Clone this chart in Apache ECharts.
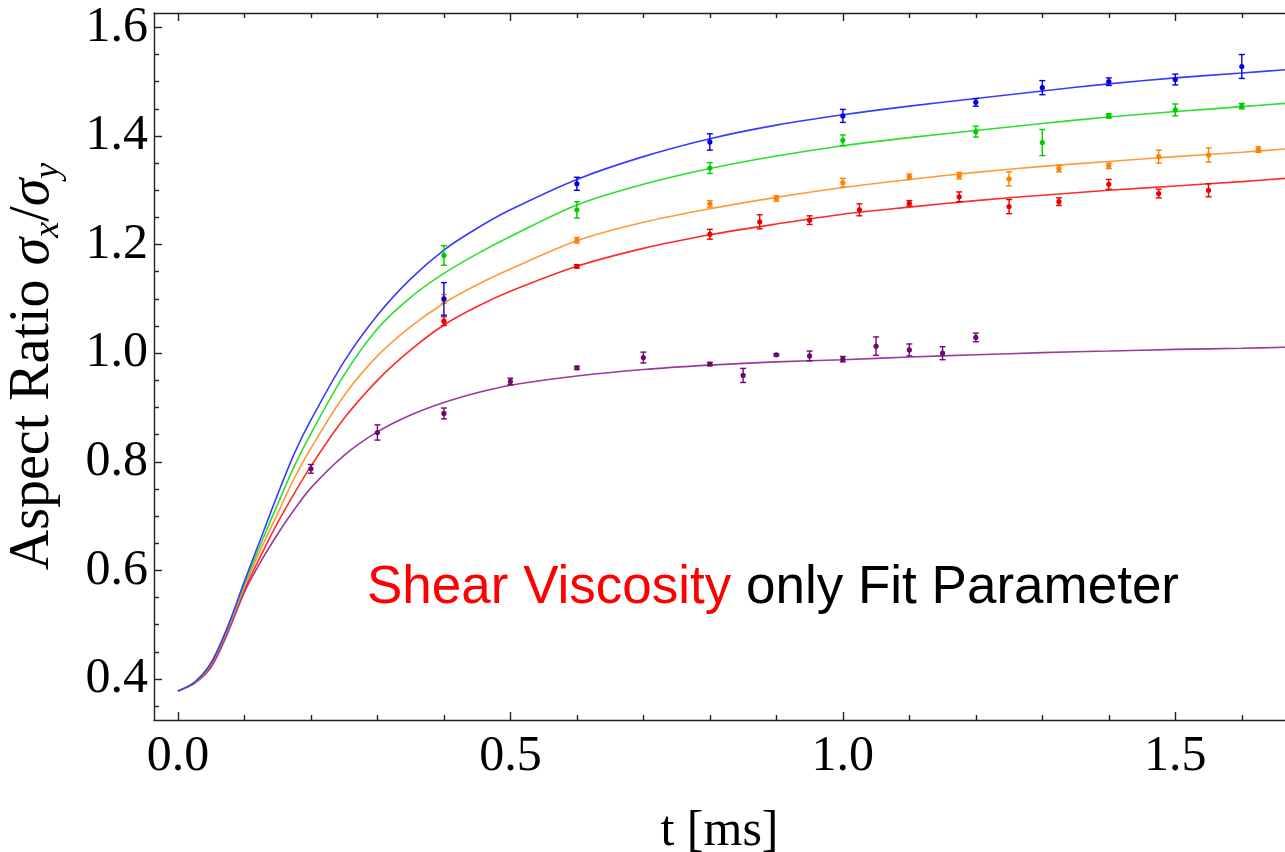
<!DOCTYPE html>
<html>
<head>
<meta charset="utf-8">
<script src="https://cdn.jsdelivr.net/npm/echarts@6/dist/echarts.min.js"></script>
<style>
html, body { margin: 0; padding: 0; background: #fff; overflow: hidden; }
#main { width: 1285px; height: 852px; }
</style>
</head>
<body>
<div id="main"></div>
<script>
// sample times of the fitted curves
var tFit = [0, 0.025, 0.05, 0.075, 0.1, 0.125, 0.15, 0.175, 0.2, 0.25, 0.3, 0.35, 0.4, 0.45, 0.5, 0.6, 0.7, 0.8, 0.9, 1.0, 1.1, 1.2, 1.3, 1.4, 1.5, 1.6, 1.665];

// fitted curves
var fitBlue   = [0.378, 0.394, 0.43, 0.497, 0.58, 0.66, 0.74, 0.815, 0.877, 0.985, 1.07, 1.137, 1.19, 1.23, 1.264, 1.32, 1.362, 1.395, 1.42, 1.439, 1.455, 1.469, 1.483, 1.496, 1.507, 1.516, 1.522];
var fitGreen  = [0.378, 0.394, 0.43, 0.495, 0.575, 0.65, 0.722, 0.792, 0.852, 0.96, 1.045, 1.103, 1.147, 1.183, 1.215, 1.273, 1.311, 1.34, 1.363, 1.382, 1.397, 1.41, 1.423, 1.435, 1.445, 1.454, 1.46];
var fitOrange = [0.378, 0.394, 0.428, 0.493, 0.57, 0.64, 0.705, 0.77, 0.825, 0.922, 0.995, 1.049, 1.092, 1.126, 1.155, 1.207, 1.241, 1.266, 1.287, 1.305, 1.32, 1.333, 1.344, 1.353, 1.362, 1.37, 1.376];
var fitRed    = [0.378, 0.393, 0.425, 0.49, 0.565, 0.628, 0.688, 0.742, 0.792, 0.88, 0.95, 1.006, 1.052, 1.086, 1.114, 1.16, 1.193, 1.218, 1.238, 1.256, 1.269, 1.281, 1.291, 1.3, 1.308, 1.316, 1.322];
var fitPurple = [0.378, 0.392, 0.422, 0.485, 0.56, 0.617, 0.667, 0.712, 0.752, 0.812, 0.855, 0.886, 0.909, 0.927, 0.941, 0.958, 0.97, 0.978, 0.984, 0.988, 0.993, 0.997, 1.001, 1.004, 1.007, 1.009, 1.011];

// measured points: [t, ratio, error]
var ptsBlue = [[0.4, 1.10, 0.03], [0.6, 1.312, 0.012], [0.8, 1.389, 0.015], [1.0, 1.437, 0.012], [1.2, 1.462, 0.007], [1.3, 1.489, 0.013], [1.4, 1.50, 0.007], [1.5, 1.504, 0.01], [1.6, 1.528, 0.022]];
var ptsGreen = [[0.4, 1.18, 0.018], [0.6, 1.264, 0.015], [0.8, 1.341, 0.01], [1.0, 1.392, 0.01], [1.2, 1.408, 0.01], [1.3, 1.388, 0.024], [1.4, 1.437, 0.004], [1.5, 1.448, 0.011], [1.6, 1.455, 0.005]];
var ptsOrange = [[0.4, 1.10, 0.008], [0.6, 1.208, 0.005], [0.8, 1.275, 0.006], [0.9, 1.285, 0.005], [1.0, 1.314, 0.008], [1.1, 1.325, 0.005], [1.175, 1.327, 0.006], [1.25, 1.321, 0.013], [1.325, 1.34, 0.006], [1.4, 1.345, 0.005], [1.475, 1.362, 0.012], [1.55, 1.365, 0.013], [1.625, 1.375, 0.005]];
var ptsRed = [[0.4, 1.059, 0.008], [0.6, 1.16, 0.003], [0.8, 1.219, 0.009], [0.875, 1.242, 0.013], [0.95, 1.245, 0.008], [1.025, 1.264, 0.011], [1.1, 1.276, 0.005], [1.175, 1.288, 0.009], [1.25, 1.27, 0.013], [1.325, 1.279, 0.007], [1.4, 1.311, 0.009], [1.475, 1.294, 0.008], [1.55, 1.30, 0.012]];
var ptsPurple = [[0.2, 0.787, 0.008], [0.3, 0.854, 0.014], [0.4, 0.889, 0.01], [0.5, 0.948, 0.006], [0.6, 0.973, 0.003], [0.7, 0.992, 0.01], [0.8, 0.98, 0.003], [0.85, 0.959, 0.013], [0.9, 0.997, 0.002], [0.95, 0.995, 0.009], [1.0, 0.989, 0.005], [1.05, 1.013, 0.017], [1.1, 1.006, 0.011], [1.15, 1.0, 0.012], [1.2, 1.029, 0.008]];

// ticks
var xMajor = [0, 0.5, 1.0, 1.5];
var xMinor = [0.1, 0.2, 0.3, 0.4, 0.6, 0.7, 0.8, 0.9, 1.1, 1.2, 1.3, 1.4, 1.6];
var yMajor = [0.4, 0.6, 0.8, 1.0, 1.2, 1.4, 1.6];
var yMinor = [0.35, 0.45, 0.5, 0.55, 0.65, 0.7, 0.75, 0.85, 0.9, 0.95, 1.05, 1.1, 1.15, 1.25, 1.3, 1.35, 1.45, 1.5, 1.55];

var serif = 'Liberation Serif';
var frame = { color: '#222', width: 1.4 };

function zip(xs, ys) {
	return xs.map(function(x, i) { return [x, ys[i]]; });
}

function fitLine(name, color, ys) {
	return {
		name: name,
		type: 'line',
		data: zip(tFit, ys),
		smooth: 0.3,
		showSymbol: false,
		silent: true,
		lineStyle: { color: color, width: 1.6 },
		z: 2
	};
}

function errPoints(name, color, pts) {
	return {
		name: name,
		type: 'custom',
		data: pts,
		silent: true,
		z: 3,
		renderItem: function(params, api) {
			var t = api.value(0), v = api.value(1), e = api.value(2);
			var p = api.coord([t, v]);
			var hi = api.coord([t, v + e]);
			var lo = api.coord([t, v - e]);
			var w = 3;
			var st = { stroke: color, lineWidth: 1.4 };
			return {
				type: 'group',
				children: [
					{ type: 'line', shape: { x1: p[0], y1: hi[1], x2: p[0], y2: lo[1] }, style: st },
					{ type: 'line', shape: { x1: p[0] - w, y1: hi[1], x2: p[0] + w, y2: hi[1] }, style: st },
					{ type: 'line', shape: { x1: p[0] - w, y1: lo[1], x2: p[0] + w, y2: lo[1] }, style: st },
					{ type: 'circle', shape: { cx: p[0], cy: p[1], r: 2.6 }, style: { fill: color } }
				]
			};
		}
	};
}

function tickAxis(pos, min, max, values, len, showLine) {
	return {
		type: 'value',
		position: pos,
		min: min,
		max: max,
		axisLine: { show: showLine, onZero: false, lineStyle: frame },
		axisTick: { show: true, inside: true, length: len, customValues: values, lineStyle: frame },
		axisLabel: { show: false },
		splitLine: { show: false }
	};
}

var xMin = -0.036, xMax = 1.665;
var yMin = 0.3245, yMax = 1.6265;

var chart = echarts.init(document.getElementById('main'));

var option = {
	backgroundColor: '#fff',
	animation: false,
	grid: { left: 154, right: 0, top: 13, bottom: 132, outerBoundsMode: 'none', containLabel: false },
	xAxis: [
		{
			type: 'value',
			position: 'bottom',
			min: xMin,
			max: xMax,
			axisLine: { onZero: false, lineStyle: frame },
			axisTick: { inside: true, length: 8, customValues: xMajor, lineStyle: frame },
			axisLabel: {
				customValues: xMajor,
				formatter: function(v) { return v.toFixed(1); },
				fontFamily: serif, fontSize: 50, color: '#000', margin: 12
			},
			splitLine: { show: false },
			name: 't [ms]',
			nameLocation: 'middle',
			nameGap: 87,
			nameTextStyle: { fontFamily: serif, fontSize: 50, color: '#000' }
		},
		tickAxis('bottom', xMin, xMax, xMinor, 5, false),
		tickAxis('top', xMin, xMax, xMajor, 8, true),
		tickAxis('top', xMin, xMax, xMinor, 5, false)
	],
	yAxis: [
		{
			type: 'value',
			position: 'left',
			min: yMin,
			max: yMax,
			axisLine: { onZero: false, lineStyle: frame },
			axisTick: { inside: true, length: 8, customValues: yMajor, lineStyle: frame },
			axisLabel: {
				customValues: yMajor,
				formatter: function(v) { return v.toFixed(1); },
				fontFamily: serif, fontSize: 50, color: '#000', margin: 6
			},
			splitLine: { show: false },
			name: 'Aspect Ratio {i|σ}{s|x}{n|/}{i|σ}{s|y}',
			nameLocation: 'middle',
			nameGap: 87,
			nameTextStyle: {
				fontFamily: serif, fontSize: 56, color: '#000', lineHeight: 68,
				rich: {
					i: { fontFamily: serif, fontSize: 56, fontStyle: 'italic', color: '#000', lineHeight: 68 },
					n: { fontFamily: serif, fontSize: 56, color: '#000', lineHeight: 68 },
					s: { fontFamily: serif, fontSize: 36, fontStyle: 'italic', color: '#000', lineHeight: 34, verticalAlign: 'bottom' }
				}
			}
		},
		tickAxis('left', yMin, yMax, yMinor, 5, false)
	],
	graphic: [{
		type: 'text',
		left: 367,
		top: 562,
		style: {
			text: '{r|Shear Viscosity }{k|only Fit Parameter}',
			rich: {
				r: { fill: '#ff0000', fontSize: 53, fontFamily: 'Liberation Sans' },
				k: { fill: '#000000', fontSize: 53, fontFamily: 'Liberation Sans' }
			}
		}
	}],
	series: [
		fitLine('fit purple', '#9a3a9a', fitPurple),
		fitLine('fit red', '#ff2a2a', fitRed),
		fitLine('fit orange', '#ff9a3a', fitOrange),
		fitLine('fit green', '#2ae02a', fitGreen),
		fitLine('fit blue', '#3a3aff', fitBlue),
		errPoints('purple', '#6e0a6e', ptsPurple),
		errPoints('red', '#e80000', ptsRed),
		errPoints('orange', '#ff8000', ptsOrange),
		errPoints('green', '#00cc00', ptsGreen),
		errPoints('blue', '#0000e0', ptsBlue)
	]
};

chart.setOption(option);
</script>
</body>
</html>
